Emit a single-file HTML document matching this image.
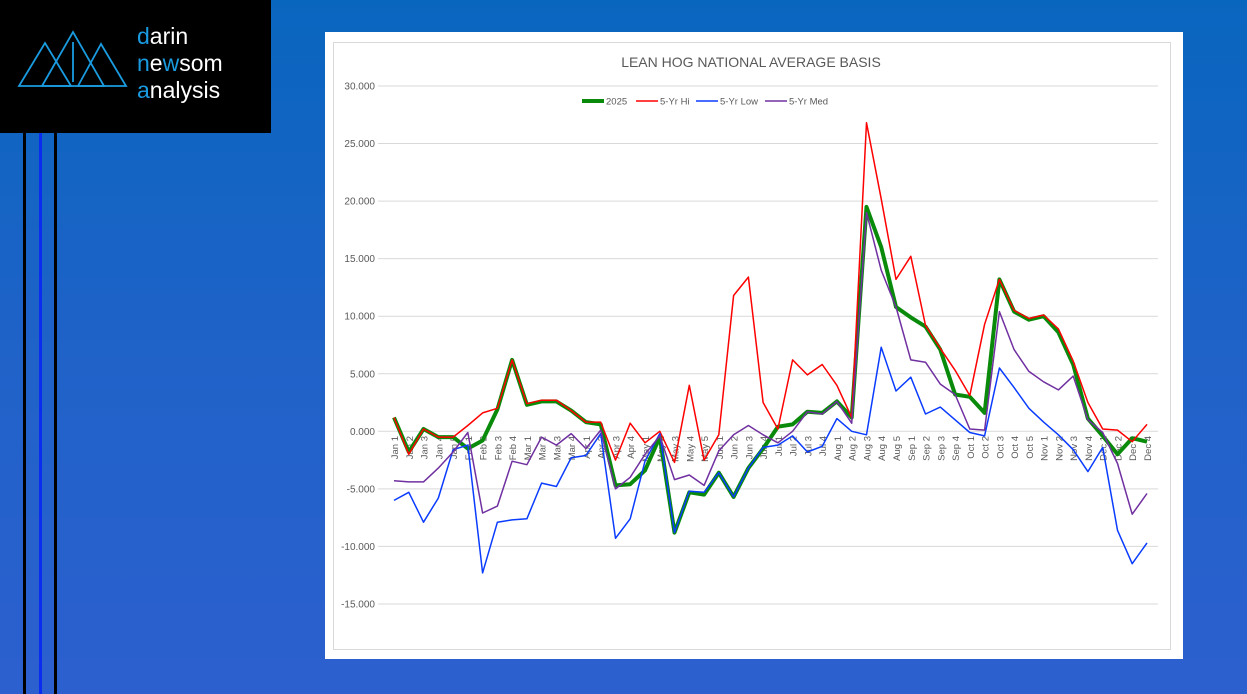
<!DOCTYPE html>
<html><head><meta charset="utf-8"><style>
html,body{margin:0;padding:0;width:1247px;height:694px;overflow:hidden}
body{background:linear-gradient(180deg,#0966bf 0%,#1f62c8 50%,#2c60cf 100%);position:relative;font-family:"Liberation Sans",sans-serif}
</style></head><body>
<div style="position:absolute;left:0;top:0;width:271px;height:133px;background:#000"></div>
<div style="position:absolute;left:23px;top:133px;width:3px;height:561px;background:#000"></div>
<div style="position:absolute;left:39px;top:133px;width:3px;height:561px;background:#0a2cf0"></div>
<div style="position:absolute;left:54px;top:133px;width:3px;height:561px;background:#000"></div>
<svg style="position:absolute;left:0;top:0" width="271" height="133">
<g fill="none" stroke="#1a9be0" stroke-width="1.8">
<polygon points="19,86 45,43 71,86"/><polygon points="42,86 73,32 104,86"/><polygon points="78,86 101,44 126,86"/>
<line x1="73" y1="42" x2="73" y2="82"/>
</g>
<text x="137" y="44" font-size="23" fill="#fff"><tspan fill="#1a9be0">d</tspan>arin</text>
<text x="137" y="71" font-size="23" fill="#fff"><tspan fill="#1a9be0">n</tspan>e<tspan fill="#1a9be0">w</tspan>som</text>
<text x="137" y="98" font-size="23" fill="#fff"><tspan fill="#1a9be0">a</tspan>nalysis</text>
</svg>
<svg id="c" style="position:absolute;left:0;top:0" width="1247" height="694"></svg>
<script>
const N=[["Jan",5],["Feb",4],["Mar",4],["Apr",4],["May",5],["Jun",4],["Jul",4],["Aug",5],["Sep",4],["Oct",5],["Nov",4],["Dec",4]];
const labs=[];N.forEach(([m,n])=>{for(let i=1;i<=n;i++)labs.push(m+" "+i)});
const g=[1.2,-1.8,0.2,-0.5,-0.5,-1.5,-0.8,1.9,6.2,2.3,2.6,2.6,1.8,0.8,0.6,-4.7,-4.6,-3.4,-0.5,-8.8,-5.3,-5.5,-3.6,-5.7,-3.2,-1.5,0.4,0.6,1.7,1.6,2.6,1.2,19.5,16,10.8,9.9,9.1,7.1,3.2,3.0,1.6,13.2,10.4,9.7,10,8.6,5.8,1.1,-0.4,-2,-0.6,-0.9];
const hi=[1.2,-2.0,0.2,-0.5,-0.5,0.5,1.6,2.0,6.2,2.4,2.7,2.7,1.8,0.8,0.8,-2.5,0.7,-1.0,0.0,-2.7,4.0,-2.5,-0.3,11.8,13.4,2.5,0.2,6.2,4.9,5.8,4.0,1.2,26.8,20.2,13.2,15.2,9.2,7.2,5.3,3.1,9.3,13.2,10.5,9.8,10.1,8.9,6.1,2.5,0.2,0.1,-0.9,0.6];
const lo=[-6,-5.3,-7.9,-5.8,-1.6,-1.2,-12.3,-7.9,-7.7,-7.6,-4.5,-4.8,-2.3,-2.1,-0.2,-9.3,-7.6,-2.6,-0.2,-8.8,-5.2,-5.3,-3.6,-5.7,-3.2,-1.4,-1.2,-0.4,-1.8,-1.3,1.1,0.0,-0.3,7.3,3.5,4.7,1.5,2.1,1.0,-0.1,-0.4,5.5,3.8,2.0,0.8,-0.3,-1.6,-3.5,-1.4,-8.6,-11.5,-9.7];
const md=[-4.3,-4.4,-4.4,-3.2,-1.8,-0.1,-7.1,-6.5,-2.6,-2.9,-0.5,-1.2,-0.2,-1.5,0.1,-5.0,-4.0,-2.0,-0.4,-4.2,-3.8,-4.7,-1.7,-0.3,0.5,-0.3,-1.0,0.0,1.7,1.5,2.6,0.7,19.0,14.0,10.8,6.2,6.0,4.1,3.2,0.2,0.1,10.4,7.1,5.2,4.3,3.6,4.8,1.0,-0.1,-2.8,-7.2,-5.4];
const X=i=>394+i*(1147-394)/51, Y=v=>431.3-v*11.51;
let s='<rect x="325" y="32" width="858" height="627" fill="#fff"/><rect x="333.5" y="42.5" width="837" height="607" fill="none" stroke="#d9d9d9"/>';
for(let v=30;v>=-15;v-=5){const y=Y(v);s+=`<line x1="378" x2="1158" y1="${y}" y2="${y}" stroke="#d9d9d9"/><text x="375" y="${y+3.5}" font-size="10" fill="#595959" text-anchor="end">${v.toFixed(3).replace(/^(\d\d)/,'$1').replace(/(\d)(\d{3})\./,'$1,$2.')}</text>`}
s+=`<text x="751" y="67" font-size="14" fill="#595959" text-anchor="middle">LEAN HOG NATIONAL AVERAGE BASIS</text>`;
labs.forEach((l,i)=>{s+=`<text transform="translate(${X(i)+4},436) rotate(-90)" font-size="9.5" fill="#595959" text-anchor="end">${l}</text>`});
const pl=(d,c,w)=>`<polyline fill="none" stroke="${c}" stroke-width="${w}" stroke-linejoin="round" points="${d.map((v,i)=>X(i).toFixed(1)+','+Y(v).toFixed(1)).join(' ')}"/>`;
s+=pl(g,'#0a8a0a',4)+pl(hi,'#ff0000',1.5)+pl(lo,'#0a3cff',1.5)+pl(md,'#7030a0',1.5);
[[582,'#0a8a0a',4,'2025'],[636,'#ff0000',1.5,'5-Yr Hi'],[696,'#0a3cff',1.5,'5-Yr Low'],[765,'#7030a0',1.5,'5-Yr Med']].forEach(([x,c,w,t])=>{s+=`<line x1="${x}" x2="${x+22}" y1="101" y2="101" stroke="${c}" stroke-width="${w}"/><text x="${x+24}" y="104.5" font-size="9.5" fill="#595959">${t}</text>`});
document.getElementById('c').innerHTML=s;
</script>
</body></html>
